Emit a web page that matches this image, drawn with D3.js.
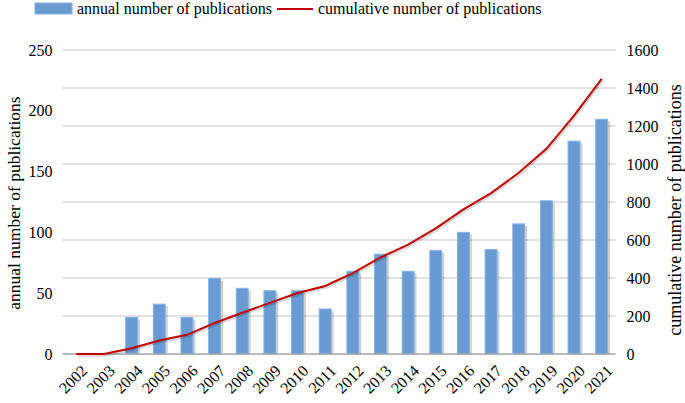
<!DOCTYPE html>
<html><head><meta charset="utf-8">
<script src="https://cdn.jsdelivr.net/npm/d3@7"></script>
<style>body{margin:0;background:#fff}</style>
</head><body>
<svg id="c" width="685" height="403"></svg>
<script>
const years = ["2002","2003","2004","2005","2006","2007","2008","2009","2010","2011","2012","2013","2014","2015","2016","2017","2018","2019","2020","2021"];
const annual = [0,0,30,41,30,62,54,52,52,37,68,82,68,85,100,86,107,126,175,193];
const cumulative = [0,0,30,71,101,163,217,269,321,358,426,508,576,661,761,847,954,1080,1255,1448];
const leftTicks = [0,50,100,150,200,250];
const rightTicks = [0,200,400,600,800,1000,1200,1400,1600];

const FF = "Tinos, 'Times New Roman', 'Liberation Serif'";
const svg = d3.select("#c");
const L = 62.5, R = 615.5, T = 50, B = 354;
const x = d3.scaleBand().domain(years).range([L, R]).paddingInner(0.57).paddingOuter(0.285);
const yl = d3.scaleLinear().domain([0,250]).range([B, T]);
const yr = d3.scaleLinear().domain([0,1600]).range([B, T]);

function txt(sel, size) {
  return sel.attr("font-family", FF).attr("font-size", size).attr("fill", "#000");
}

// gridlines
svg.append("g").selectAll("line").data(rightTicks.slice(1)).join("line")
  .attr("x1", L).attr("x2", R).attr("y1", d => yr(d)).attr("y2", d => yr(d))
  .attr("stroke", "#d9d9d9").attr("stroke-width", 1.3);

// bar shadows
svg.append("g").selectAll("rect").data(years).join("rect")
  .attr("x", d => x(d) + 2.5).attr("width", x.bandwidth())
  .attr("y", (d,i) => yl(annual[i]) + 2).attr("height", (d,i) => Math.max(0, B - yl(annual[i]) - 1))
  .attr("fill", "#000").attr("opacity", (d,i) => annual[i] > 0 ? 0.18 : 0);

// bars
svg.append("g").selectAll("rect").data(years).join("rect")
  .attr("x", d => x(d)).attr("width", x.bandwidth())
  .attr("y", (d,i) => yl(annual[i])).attr("height", (d,i) => B - yl(annual[i]))
  .attr("fill", "#6a9bd0").attr("stroke", "#7fb2e6").attr("stroke-width", 1);

// baseline
svg.append("line").attr("x1", L).attr("x2", R).attr("y1", B).attr("y2", B)
  .attr("stroke", "#a6a6a6").attr("stroke-width", 1.5);

// line + soft shadow
const line = d3.line().x((d,i) => x(years[i]) + x.bandwidth()/2).y(d => yr(d));
svg.append("path").datum(cumulative).attr("d", line).attr("transform", "translate(1.2,1.5)")
  .attr("fill", "none").attr("stroke", "#000").attr("stroke-opacity", 0.15).attr("stroke-width", 2.5);
svg.append("path").datum(cumulative).attr("d", line)
  .attr("fill", "none").attr("stroke", "#c00000").attr("stroke-width", 2);

// left axis labels
const yAxisL = d3.axisLeft(yl).tickValues(leftTicks).tickFormat(d3.format("d")).tickSize(0).tickPadding(10);
const gl = svg.append("g").attr("transform", `translate(${L},0)`).call(yAxisL);
gl.attr("font-family", FF).attr("font-size", 16);
gl.select(".domain").remove();
txt(gl.selectAll("text"), 16);

// right axis labels
const yAxisR = d3.axisRight(yr).tickValues(rightTicks).tickFormat(d3.format("d")).tickSize(0).tickPadding(11);
const gr = svg.append("g").attr("transform", `translate(${R},0)`).call(yAxisR);
gr.attr("font-family", FF).attr("font-size", 16);
gr.select(".domain").remove();
txt(gr.selectAll("text"), 16);

// x labels
txt(svg.append("g").selectAll("text").data(years).join("text")
  .attr("transform", d => `translate(${x(d) + x.bandwidth()/2 + 4},${B + 10}) rotate(-45)`)
  .attr("text-anchor", "end").attr("dy", "0.7em"), 16).text(d => d);

// axis titles
txt(svg.append("text").attr("transform", `translate(20,203) rotate(-90)`).attr("text-anchor","middle"), 17.5)
  .text("annual number of publications");
txt(svg.append("text").attr("transform", `translate(681,210) rotate(-90)`).attr("text-anchor","middle"), 18)
  .text("cumulative number of publications");

// legend
svg.append("rect").attr("x",35).attr("y",3).attr("width",37).attr("height",11).attr("fill","#6a9bd0").attr("stroke","#7fb2e6");
txt(svg.append("text").attr("x",77).attr("y",14), 16).text("annual number of publications");
svg.append("line").attr("x1",277).attr("x2",313).attr("y1",9).attr("y2",9).attr("stroke","#c00000").attr("stroke-width",2);
txt(svg.append("text").attr("x",318).attr("y",14), 16).text("cumulative number of publications");
</script>
</body></html>
